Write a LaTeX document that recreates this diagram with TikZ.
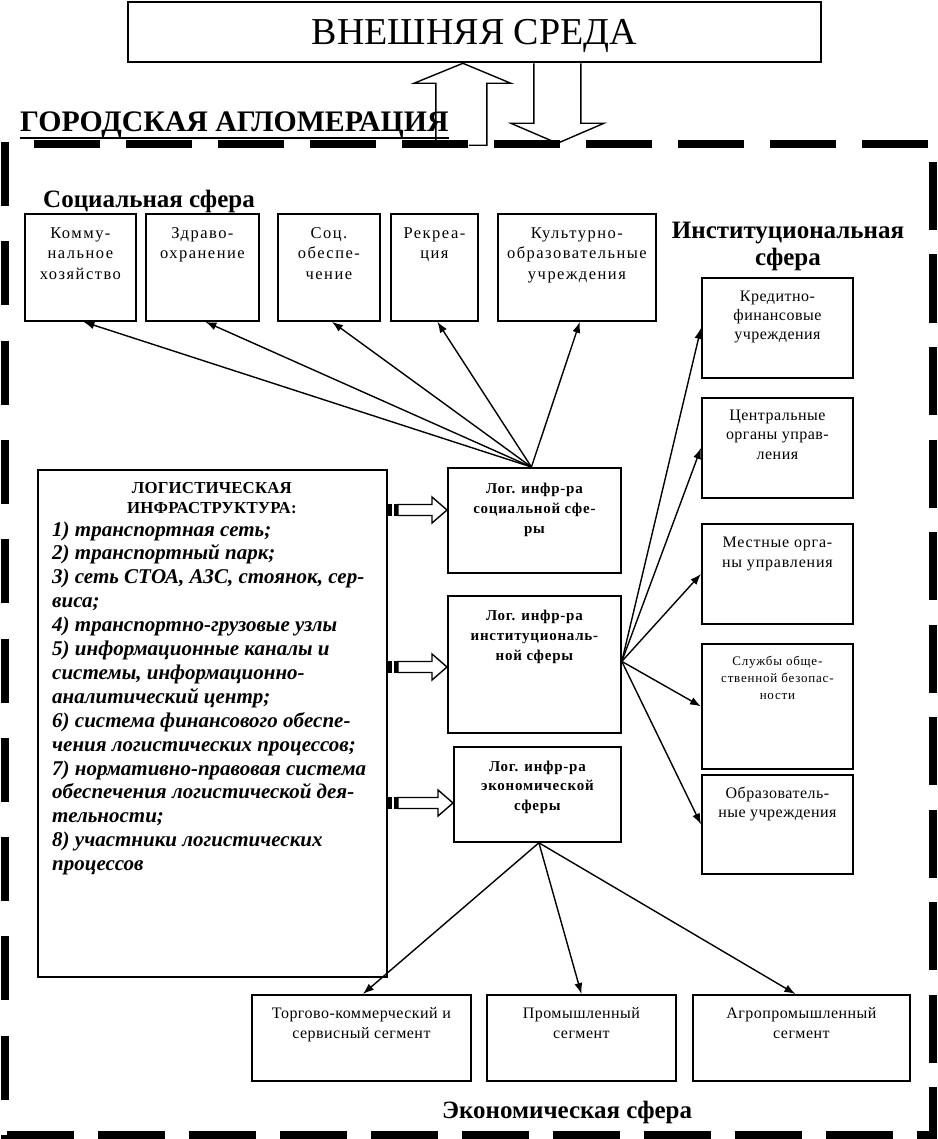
\documentclass[tikz,border=0pt]{standalone}
\usepackage{fontspec}
\setmainfont{Liberation Serif}
\newfontfamily\lsA[LetterSpace=9]{Liberation Serif}
\newfontfamily\lsB[LetterSpace=3]{Liberation Serif}
\newfontfamily\lsC[LetterSpace=5]{Liberation Serif}
\newfontfamily\lsD[LetterSpace=6]{Liberation Serif}
\newfontfamily\lsE[LetterSpace=1]{Liberation Serif}
\usetikzlibrary{arrows.meta,calc}
\newcommand{\firstln}{\rule{0pt}{0.8em}}
\newcommand{\blkarrow}[2]{%
  \draw[blk] ($(#1)+(10,-5.5)$) -- ($(#2)+(-15,-5.5)$) -- ($(#2)+(-15,-13)$) -- (#2)
     -- ($(#2)+(-15,13)$) -- ($(#2)+(-15,5.5)$) -- ($(#1)+(10,5.5)$) -- cycle;
  \fill ($(#1)+(0,-6)$) rectangle ($(#1)+(4.5,6)$);
  \fill ($(#1)+(6,-6)$) rectangle ($(#1)+(10,6)$);}
\begin{document}
\begin{tikzpicture}[x=1pt,y=-1pt,
  box/.style={draw, line width=1.8pt, inner sep=0pt, anchor=north west},
  txt/.style={inner sep=0pt, align=center, anchor=north},
  sf/.style={font=\lsA\fontsize{16.5}{20.5}\selectfont},
  inf/.style={font=\lsB\fontsize{16}{19.3}\selectfont},
  bf/.style={font=\lsB\fontsize{16}{20}\selectfont},
  mf/.style={font=\lsC\bfseries\fontsize{15}{20}\selectfont},
  hd/.style={inner sep=0pt, font=\bfseries\fontsize{25}{27}\selectfont},
  con/.style={line width=1.4pt, -{Latex[length=11pt,width=8pt]}},
  brd/.style={line width=8pt},
  blk/.style={line width=1.4pt, fill=white, line join=miter}]
\useasboundingbox (0,0) rectangle (937,1139);

% dashed border of the agglomeration
\draw[brd, dash pattern=on 66pt off 26pt] (34,144) -- (937,144);
\draw[brd, dash pattern=on 64pt off 35.3pt] (4.5,142) -- (4.5,1139);
\draw[brd, dash pattern=on 68pt off 24.5pt] (933,162) -- (933,1139);
\draw[brd, dash pattern=on 67pt off 24pt] (7,1135) -- (937,1135);

% external environment
\node[box, minimum width=693pt, minimum height=60pt, text depth=0pt, font=\fontsize{38}{40}\selectfont] (env) at (127,1.5) {ВНЕШНЯЯ СРЕДА};
\coordinate (upT) at ([xshift=-11.5pt]env.south);
\coordinate (dnS) at ([xshift=83pt]env.south);
\draw[blk, fill=none] ($(upT)+(-27,80)$) -- ($(upT)+(-27,20)$) -- ($(upT)+(-49,20)$) -- (upT)
   -- ($(upT)+(48,20)$) -- ($(upT)+(24,20)$) -- ($(upT)+(24,82)$) -- ($(upT)+(6,82)$);
\draw[blk, fill=none] ($(dnS)+(-23.5,0)$) -- ($(dnS)+(-23.5,60)$) -- ($(dnS)+(-46.5,60)$) -- ($(dnS)+(0,80)$)
   -- ($(dnS)+(46.5,60)$) -- ($(dnS)+(23.5,60)$) -- ($(dnS)+(23.5,0)$);

\node[inner sep=0pt, anchor=base west, font=\bfseries\fontsize{29.8}{32}\selectfont] (city) at (20,132) {ГОРОДСКАЯ АГЛОМЕРАЦИЯ};
\draw[line width=2pt] ([yshift=-6pt]city.base west) -- ([yshift=-6pt]city.base east);

% social sphere
\node[hd, anchor=base west] (socH) at (43,208) {Социальная сфера};
\node[box, minimum width=111pt, minimum height=107pt] (s1) at (24,213) {};
\node[box, minimum width=113pt, minimum height=107pt] (s2) at (145,213) {};
\node[box, minimum width=102pt, minimum height=107pt] (s3) at (277,213) {};
\node[box, minimum width=87pt, minimum height=107pt] (s4) at (390,213) {};
\node[box, minimum width=158pt, minimum height=107pt] (s5) at (497,213) {};
\node[txt, sf] (s1t) at ([yshift=-12pt]s1.north) {\firstln Комму-\\нальное\\хозяйство};
\node[txt, sf] (s2t) at ([yshift=-12pt]s2.north) {\firstln Здраво-\\охранение};
\node[txt, sf] (s3t) at ([yshift=-12pt]s3.north) {\firstln Соц.\\обеспе-\\чение};
\node[txt, sf] (s4t) at ([yshift=-12pt]s4.north) {\firstln Рекреа-\\ция};
\node[txt, sf] (s5t) at ([yshift=-12pt]s5.north) {\firstln Культурно-\\образовательные\\учреждения};

% institutional sphere
\node[hd, align=center, anchor=north] (instH) at (788,218.5) {\firstln Институциональная\\сфера};
\node[box, minimum width=151pt, minimum height=100pt] (i1) at (701,277) {};
\node[box, minimum width=151pt, minimum height=100pt] (i2) at (701,397) {};
\node[box, minimum width=151pt, minimum height=100pt] (i3) at (701,523) {};
\node[box, minimum width=151pt, minimum height=125pt] (i4) at (701,643) {};
\node[box, minimum width=151pt, minimum height=99pt] (i5) at (701,774) {};
\node[txt, inf] (i1t) at ([yshift=-11pt]i1.north) {\firstln Кредитно-\\финансовые\\учреждения};
\node[txt, inf, font=\lsB\fontsize{16}{19.7}\selectfont] (i2t) at ([yshift=-10pt]i2.north) {\firstln Центральные\\органы управ-\\ления};
\node[txt, inf, font=\lsC\fontsize{16}{20}\selectfont] (i3t) at ([yshift=-11pt]i3.north) {\firstln Местные орга-\\ны управления};
\node[txt, font=\lsD\fontsize{13}{17}\selectfont] (i4t) at ([yshift=-11.5pt]i4.north) {\firstln Службы обще-\\ственной безопас-\\ности};
\node[txt, inf, font=\lsB\fontsize{16}{19.5}\selectfont] (i5t) at ([yshift=-11pt]i5.north) {\firstln Образователь-\\ные учреждения};

% logistic infrastructure
\node[box, minimum width=349pt, minimum height=507pt] (log) at (37,469) {};
\node[txt, font=\lsE\bfseries\fontsize{16.8}{20}\selectfont] (logH) at ([yshift=-11pt, xshift=-0.5pt]log.north) {\firstln ЛОГИСТИЧЕСКАЯ\\ИНФРАСТРУКТУРА:};
\node[inner sep=0pt, align=left, anchor=north west, font=\bfseries\itshape\fontsize{21}{23.9}\selectfont] (logL) at (52,519) {\firstln
1) транспортная сеть;\\
2) транспортный парк;\\
3) сеть СТОА, АЗС, стоянок, сер-\\
виса;\\
4) транспортно-грузовые узлы\\
5) информационные каналы и\\
системы, информационно-\\
аналитический центр;\\
6) система финансового обеспе-\\
чения логистических процессов;\\
7) нормативно-правовая система\\
обеспечения логистической дея-\\
тельности;\\
8) участники логистических\\
процессов};

% logistic infrastructure of the spheres
\node[box, minimum width=173pt, minimum height=105pt] (soc) at (447,467) {};
\node[box, minimum width=173pt, minimum height=137pt] (inst) at (447,595) {};
\node[box, minimum width=167pt, minimum height=95pt] (econ) at (453,746) {};
\node[txt, mf] (soct) at ([yshift=-14pt]soc.north) {\firstln Лог. инфр-ра\\социальной сфе-\\ры};
\node[txt, mf] (instt) at ([yshift=-13pt]inst.north) {\firstln Лог. инфр-ра\\институциональ-\\ной сферы};
\node[txt, mf, font=\lsC\bfseries\fontsize{15}{19.5}\selectfont] (econt) at ([yshift=-13pt]econ.north) {\firstln Лог. инфр-ра\\экономической\\сферы};

\coordinate (a1) at (log.east |- 0,510);
\coordinate (a2) at (log.east |- 0,667);
\coordinate (a3) at (log.east |- 0,803);
\blkarrow{a1}{soc.west |- a1}
\blkarrow{a2}{inst.west |- a2}
\blkarrow{a3}{econ.west |- a3}

% economic sphere
\node[box, minimum width=219pt, minimum height=86pt] (b1) at (251,994) {};
\node[box, minimum width=189pt, minimum height=86pt] (b2) at (486,994) {};
\node[box, minimum width=217pt, minimum height=86pt] (b3) at (692,994) {};
\node[txt, bf] (b1t) at ([yshift=-11pt]b1.north) {\firstln Торгово-коммерческий и\\сервисный сегмент};
\node[txt, bf] (b2t) at ([yshift=-11pt]b2.north) {\firstln Промышленный\\сегмент};
\node[txt, bf] (b3t) at ([yshift=-11pt]b3.north) {\firstln Агропромышленный\\сегмент};
\node[hd, anchor=base west] (ecoH) at (442,1118) {Экономическая сфера};

% connectors
\coordinate (sh) at ([xshift=-3pt]soc.north);
\foreach \t in {s1,s2,s3,s4,s5} \draw[con] (sh) -- ([xshift=3pt]\t.south);
\coordinate (ih) at ([yshift=3pt]inst.east);
\foreach \t in {i1,i2,i3,i4,i5} \draw[con] (ih) -- (\t.west);
\coordinate (eh) at ([xshift=1.5pt]econ.south);
\draw[con] (eh) -- ([xshift=1.5pt]b1.north);
\draw[con] (eh) -- (b2.north);
\draw[con] (eh) -- ([xshift=-6pt]b3.north);
\end{tikzpicture}
\end{document}
